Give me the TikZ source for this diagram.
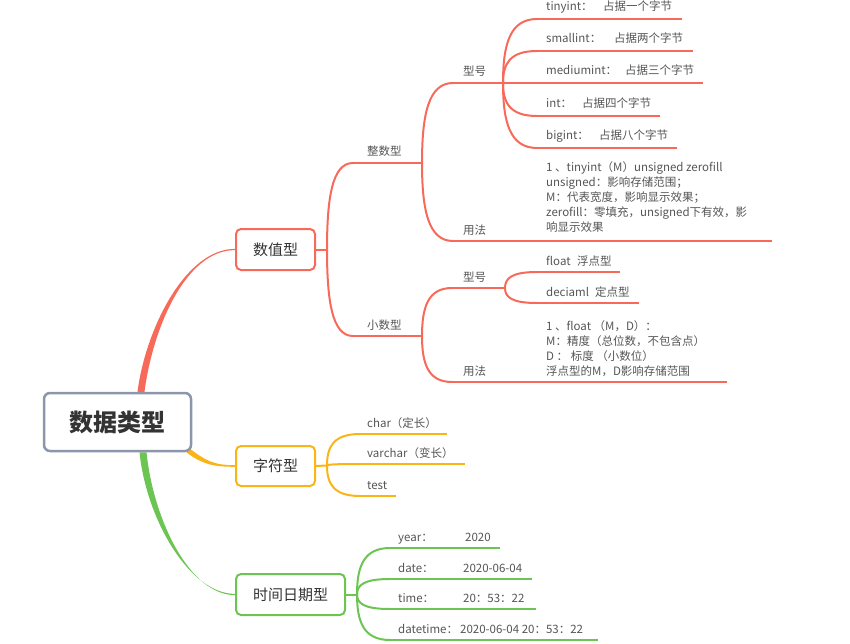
\documentclass[tikz,border=0pt]{standalone}
\usepackage{fontspec}
\setmainfont{Noto Sans CJK SC}
\usetikzlibrary{calc}
\definecolor{cred}{RGB}{247,106,90}
\definecolor{cyel}{RGB}{251,180,22}
\definecolor{cgrn}{RGB}{108,197,82}
\definecolor{cgray}{RGB}{140,150,170}
\definecolor{boxtext}{RGB}{51,51,51}
\definecolor{leaftext}{RGB}{85,85,85}
\pgfdeclarelayer{bg}
\pgfsetlayers{bg,main}
\begin{document}
\begin{tikzpicture}[x=1pt,y=-1pt,
  box/.style={draw,rounded corners=5pt,line width=2pt,fill=white,inner sep=0pt,text=boxtext,font=\fontsize{15}{18}\selectfont},
  lbl/.style={anchor=base west,inner sep=0pt,text=leaftext,font=\fontsize{11.5}{15}\selectfont},
  multi/.style={lbl,align=left},
  br/.style={line width=2pt,to path={.. controls ($(\tikztostart)!0.6!(\tikztostart|-\tikztotarget)$) and ($(\tikztotarget)!0.8!(\tikztotarget-|\tikztostart)$) .. (\tikztotarget)}},
  ul/.style={line width=2pt}
]
\useasboundingbox (0,0) rectangle (850,644);

% main boxes
\node[box,draw=cgray,line width=2.5pt,rounded corners=6pt,minimum width=147pt,minimum height=58pt,font=\fontsize{24}{28}\selectfont\bfseries] (root) at (117.5,422) {数据类型};
\node[box,draw=cred,minimum width=79pt,minimum height=41pt] (n1) at (275.5,249.5) {数值型};
\node[box,draw=cyel,minimum width=79pt,minimum height=40pt] (n2) at (275.5,466) {字符型};
\node[box,draw=cgrn,minimum width=109pt,minimum height=41pt] (n3) at (290.5,594.5) {时间日期型};

% tapered main connectors (behind the boxes)
\begin{pgfonlayer}{bg}
\fill[cred] ([shift={(20,0)}]root.north) .. controls +(8,-62) and +(-50,0) .. ([shift={(0,-0.6)}]n1.west)
  -- ([shift={(0,0.6)}]n1.west) .. controls +(-50,0) and +(8,-62) .. ([shift={(27,0)}]root.north) -- cycle;
\fill[cyel] ([shift={(-3,-4)}]root.south east) .. controls +(16,12) and +(-22,0) .. ([shift={(0,-0.8)}]n2.west)
  -- ([shift={(0,0.8)}]n2.west) .. controls +(-22,0) and +(16,12) .. ([shift={(-6,0)}]root.south east) -- cycle;
\fill[cgrn] ([shift={(22,0)}]root.south) .. controls +(7,68) and +(-45,0) .. ([shift={(0,-0.6)}]n3.west)
  -- ([shift={(0,0.6)}]n3.west) .. controls +(-45,0) and +(7,68) .. ([shift={(29,0)}]root.south) -- cycle;
\end{pgfonlayer}

% ---------- red branch ----------
\coordinate (r0) at (327,249.5);
\coordinate (zs) at (353,163); \coordinate (ze) at (422,163);
\coordinate (xs) at (353,336); \coordinate (xe) at (422,336);
\coordinate (zxs) at (453,83); \coordinate (zxe) at (503,83);
\coordinate (zys) at (453,241); \coordinate (zye) at (772,241);
\coordinate (xxs) at (452,288); \coordinate (xxe) at (505,288);
\coordinate (xys) at (452,382); \coordinate (xye) at (727,382);
\coordinate (a1s) at (537,19);  \coordinate (a1e) at (682,19);
\coordinate (a2s) at (537,51);  \coordinate (a2e) at (693,51);
\coordinate (a3s) at (537,83);  \coordinate (a3e) at (703,83);
\coordinate (a4s) at (537,116); \coordinate (a4e) at (660,116);
\coordinate (a5s) at (537,148); \coordinate (a5e) at (677,148);
\coordinate (b1s) at (537,272); \coordinate (b1e) at (620,272);
\coordinate (b2s) at (537,303); \coordinate (b2e) at (639,303);

\draw[cred,ul] (n1.east) -- (r0);
\draw[cred,br] (r0) to (zs); \draw[cred,ul] (zs) -- (ze);
\draw[cred,br] (r0) to (xs); \draw[cred,ul] (xs) -- (xe);
\draw[cred,br] (ze) to (zxs); \draw[cred,ul] (zxs) -- (zxe);
\draw[cred,br] (ze) to (zys); \draw[cred,ul] (zys) -- (zye);
\draw[cred,br] (xe) to (xxs); \draw[cred,ul] (xxs) -- (xxe);
\draw[cred,br] (xe) to (xys); \draw[cred,ul] (xys) -- (xye);
\foreach \i in {1,...,5}{\draw[cred,br] (zxe) to (a\i s); \draw[cred,ul] (a\i s) -- (a\i e);}
\foreach \i in {1,2}{\draw[cred,br] (xxe) to (b\i s); \draw[cred,ul] (b\i s) -- (b\i e);}

\node[lbl] (lz) at (367,156) {整数型};
\node[lbl] (lx) at (367,329) {小数型};
\node[lbl] (lzx) at (463,76) {型号};
\node[lbl] (lzy) at (463,234) {用法};
\node[lbl] (lxx) at (463,281) {型号};
\node[lbl] (lxy) at (463,375) {用法};

\node[lbl] (la1) at (546,11) {\makebox[57pt][l]{tinyint：}占据一个字节};
\node[lbl] (la2) at (546,43) {\makebox[68pt][l]{smallint：}占据两个字节};
\node[lbl] (la3) at (546,75) {\makebox[79pt][l]{mediumint：}占据三个字节};
\node[lbl] (la4) at (546,108) {\makebox[36pt][l]{int：}占据四个字节};
\node[lbl] (la5) at (546,140) {\makebox[53pt][l]{bigint：}占据八个字节};
\node[multi] (lzyt) at (546,232) {1 、tinyint（M）unsigned zerofill\\unsigned：影响存储范围；\\M：代表宽度，影响显示效果；\\zerofill：零填充，unsigned下有效，影\\响显示效果};
\node[lbl] (lb1) at (546,265) {\makebox[31pt][l]{float}浮点型};
\node[lbl] (lb2) at (546,296) {\makebox[49pt][l]{deciaml}定点型};
\node[multi,font=\fontsize{11.5}{14.7}\selectfont] (lxyt) at (546,375) {1 、float （M，D）：\\M：精度（总位数，不包含点）\\D ： 标度 （小数位）\\浮点型的M，D影响存储范围};

% ---------- yellow branch ----------
\coordinate (y0) at (327,465.5);
\coordinate (c1s) at (360,434); \coordinate (c1e) at (447,434);
\coordinate (c2s) at (360,464); \coordinate (c2e) at (465,464);
\coordinate (c3s) at (360,496); \coordinate (c3e) at (396,496);
\draw[cyel,ul] (n2.east) -- (y0);
\foreach \i in {1,2,3}{\draw[cyel,br] (y0) to (c\i s); \draw[cyel,ul] (c\i s) -- (c\i e);}
\node[lbl] (lc1) at (367,427) {char（定长）};
\node[lbl] (lc2) at (367,457) {varchar（变长）};
\node[lbl] (lc3) at (367,489) {test};

% ---------- green branch ----------
\coordinate (g0) at (357,594.5);
\coordinate (d1s) at (390,548); \coordinate (d1e) at (500,548);
\coordinate (d2s) at (390,579); \coordinate (d2e) at (532,579);
\coordinate (d3s) at (390,609); \coordinate (d3e) at (536,609);
\coordinate (d4s) at (390,640); \coordinate (d4e) at (598,640);
\draw[cgrn,ul] (n3.east) -- (g0);
\foreach \i in {1,2,3,4}{\draw[cgrn,br] (g0) to (d\i s); \draw[cgrn,ul] (d\i s) -- (d\i e);}
\node[lbl] (ld1) at (398,541) {\makebox[67pt][l]{year：}2020};
\node[lbl] (ld2) at (398,572) {\makebox[65pt][l]{date：}2020-06-04};
\node[lbl] (ld3) at (398,602) {\makebox[65pt][l]{time：}20：53：22};
\node[lbl] (ld4) at (398,633) {\makebox[62pt][l]{datetime：}2020-06-04 20：53：22};
\end{tikzpicture}
\end{document}
